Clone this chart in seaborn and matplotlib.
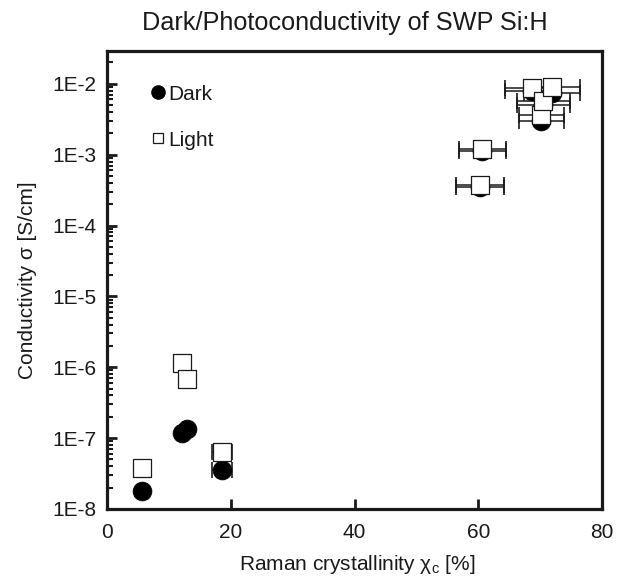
import matplotlib
matplotlib.use("Agg")
import matplotlib.pyplot as plt
import seaborn as sns
import numpy as np
import pandas as pd
from matplotlib.lines import Line2D
from matplotlib.ticker import FixedLocator, LogLocator, FuncFormatter, NullFormatter

# ---- data ----
x_vals = [5.6, 12.0, 12.9, 18.5, 60.3, 60.6, 68.6, 70.2, 70.5, 71.9]
x_err = [0, 0, 0, 1.6, 3.85, 3.8, 4.3, 3.6, 4.3, 4.5]
dark = [1.8e-8, 1.18e-7, 1.34e-7, 3.55e-8, 3.5e-4, 1.13e-3, 7.8e-3, 3.0e-3, 5.0e-3, 7.5e-3]
light = [3.8e-8, 1.13e-6, 6.8e-7, 6.35e-8, 3.69e-4, 1.21e-3, 8.67e-3, 3.57e-3, 5.69e-3, 8.96e-3]
series = ["Dark", "Light"]
x_ticks = [0, 20, 40, 60, 80]
y_ticks = [1e-8, 1e-7, 1e-6, 1e-5, 1e-4, 1e-3, 1e-2]
y_tick_labels = ["1E-8", "1E-7", "1E-6", "1E-5", "1E-4", "1E-3", "1E-2"]
title = "Dark/Photoconductivity of SWP Si:H"
xlabel = "Raman crystallinity χ$_\\mathregular{c}$ [%]"
ylabel = "Conductivity σ [S/cm]"

sns.set_theme(style="white")
plt.rcParams["font.family"] = ["Liberation Sans", "DejaVu Sans"]
plt.rcParams["mathtext.default"] = "regular"

df = pd.DataFrame({
    "x": x_vals * 2,
    "xerr": x_err * 2,
    "sigma": dark + light,
    "kind": [series[0]] * len(dark) + [series[1]] * len(light),
})

fig = plt.figure(figsize=(6.27, 5.83), dpi=100)
ax = fig.add_axes([107.3 / 627, (583 - 509) / 583, 494.7 / 627, 458 / 583])
ax.set_yscale("log")

# error bars (behind markers)
for kind in series:
    sub = df[(df["kind"] == kind) & (df["xerr"] > 0)]
    ax.errorbar(sub["x"], sub["sigma"], xerr=sub["xerr"], fmt="none",
                ecolor="#1a1a1a", elinewidth=1.1, capsize=6, capthick=1.2, zorder=1)

sns.scatterplot(data=df[df["kind"] == "Dark"], x="x", y="sigma", ax=ax,
                marker="o", s=185, color="black", edgecolor="black", linewidth=0.5,
                legend=False, zorder=2)
sns.scatterplot(data=df[df["kind"] == "Light"], x="x", y="sigma", ax=ax,
                marker="s", s=175, color="white", edgecolor="#1a1a1a", linewidth=0.9,
                legend=False, zorder=3)

ax.set_xlim(0, 80)
ax.set_ylim(1e-8, 2.9e-2)
ax.xaxis.set_major_locator(FixedLocator(x_ticks))
ax.yaxis.set_major_locator(FixedLocator(y_ticks))
ax.yaxis.set_major_formatter(FuncFormatter(lambda v, p: y_tick_labels[y_ticks.index(v)] if v in y_ticks else ""))
ax.yaxis.set_minor_locator(LogLocator(base=10, subs=np.arange(2, 10), numticks=20))
ax.yaxis.set_minor_formatter(NullFormatter())

ax.tick_params(axis="both", which="major", direction="in", length=7, width=2,
               labelsize=15, colors="#1a1a1a", left=True, bottom=True, top=False, right=False)
ax.tick_params(axis="y", which="minor", direction="in", length=4.5, width=1.5,
               left=True, right=False, colors="#1a1a1a")
ax.tick_params(axis="x", which="major", pad=10)
ax.tick_params(axis="y", which="major", pad=8)
for sp in ax.spines.values():
    sp.set_linewidth(2.3)
    sp.set_color("#1a1a1a")
    sp.set_visible(True)

ax.set_xlabel(xlabel, fontsize=15, color="#1a1a1a")
ax.set_ylabel(ylabel, fontsize=15, color="#1a1a1a")
ax.xaxis.set_label_coords((357 - 107.3) / 494.7, -(553 - 509) / 458)
ax.yaxis.set_label_coords(-(107.3 - 37) / 494.7, 0.5)

fig.text(345 / 627, 1 - 23 / 583, title, ha="center", va="center", fontsize=18.2, color="#1a1a1a")

handles = [
    Line2D([], [], marker="o", linestyle="none", markersize=9.5, markerfacecolor="black",
           markeredgecolor="black"),
    Line2D([], [], marker="s", linestyle="none", markersize=7.5, markerfacecolor="white",
           markeredgecolor="#1a1a1a", markeredgewidth=0.9),
]
ax.legend(handles, series, loc="upper left", bbox_to_anchor=(0.07, 0.945), frameon=False,
          fontsize=15, handlelength=0.7, handletextpad=0.15, labelspacing=1.3,
          borderaxespad=0, labelcolor="#1a1a1a")

fig.savefig("out.png", dpi=100)
